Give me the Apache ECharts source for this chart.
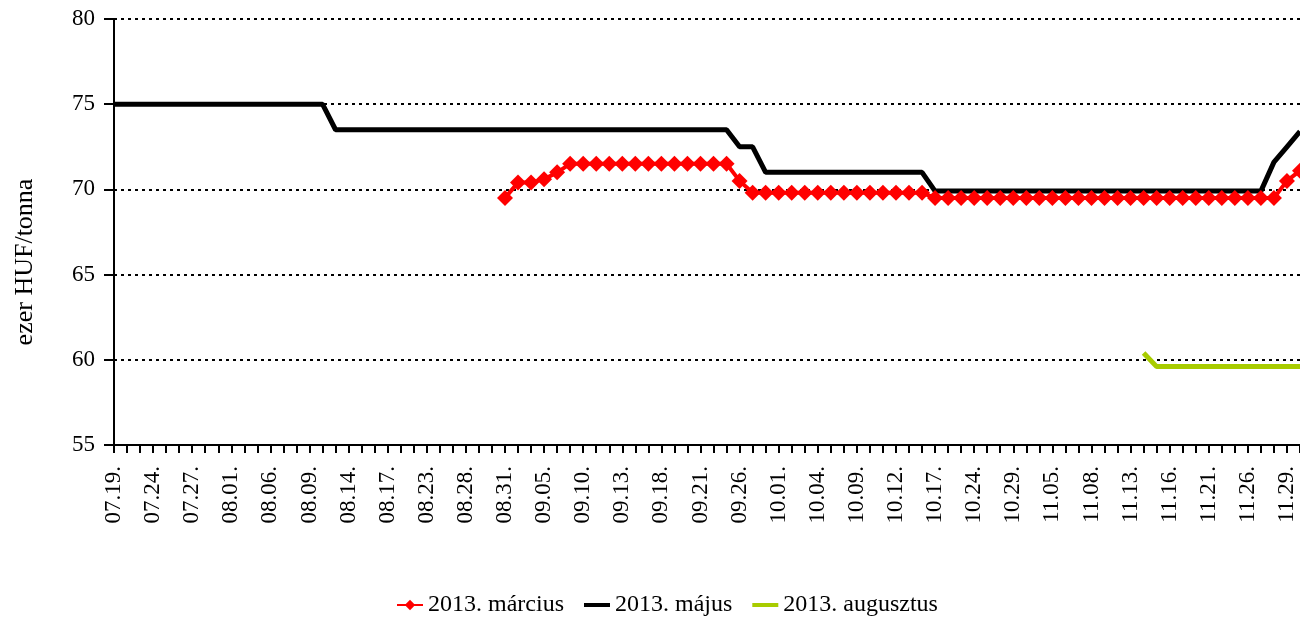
<!DOCTYPE html>
<html>
<head>
<meta charset="utf-8">
<script src="https://cdn.jsdelivr.net/npm/echarts@6/dist/echarts.min.js"></script>
<style>
  html, body { margin: 0; padding: 0; background: #fff; }
  #chart { width: 1300px; height: 618px; }
</style>
</head>
<body>
<div id="chart"></div>
<script>
// trading days, every third one is labelled on the axis
const days = [
  '07.19.', '07.22.', '07.23.', '07.24.', '07.25.', '07.26.', '07.27.', '07.30.', '07.31.',
  '08.01.', '08.02.', '08.05.', '08.06.', '08.07.', '08.08.', '08.09.', '08.12.', '08.13.',
  '08.14.', '08.15.', '08.16.', '08.17.', '08.21.', '08.22.', '08.23.', '08.26.', '08.27.',
  '08.28.', '08.29.', '08.30.', '08.31.', '09.03.', '09.04.', '09.05.', '09.06.', '09.09.',
  '09.10.', '09.11.', '09.12.', '09.13.', '09.16.', '09.17.', '09.18.', '09.19.', '09.20.',
  '09.21.', '09.24.', '09.25.', '09.26.', '09.27.', '09.30.', '10.01.', '10.02.', '10.03.',
  '10.04.', '10.07.', '10.08.', '10.09.', '10.10.', '10.11.', '10.12.', '10.15.', '10.16.',
  '10.17.', '10.18.', '10.21.', '10.24.', '10.25.', '10.28.', '10.29.', '10.30.', '11.04.',
  '11.05.', '11.06.', '11.07.', '11.08.', '11.11.', '11.12.', '11.13.', '11.14.', '11.15.',
  '11.16.', '11.19.', '11.20.', '11.21.', '11.22.', '11.25.', '11.26.', '11.27.', '11.28.',
  '11.29.', '12.02.'
];

const N = null;

// 2013. március
const marcius = [
  N, N, N, N, N, N, N, N, N, N,
  N, N, N, N, N, N, N, N, N, N,
  N, N, N, N, N, N, N, N, N, N,
  69.5, 70.4, 70.4, 70.6, 71.0, 71.5, 71.5, 71.5, 71.5, 71.5,
  71.5, 71.5, 71.5, 71.5, 71.5, 71.5, 71.5, 71.5, 70.5, 69.8,
  69.8, 69.8, 69.8, 69.8, 69.8, 69.8, 69.8, 69.8, 69.8, 69.8,
  69.8, 69.8, 69.8, 69.5, 69.5, 69.5, 69.5, 69.5, 69.5, 69.5,
  69.5, 69.5, 69.5, 69.5, 69.5, 69.5, 69.5, 69.5, 69.5, 69.5,
  69.5, 69.5, 69.5, 69.5, 69.5, 69.5, 69.5, 69.5, 69.5, 69.5,
  70.5, 71.1
];

// 2013. május
const majus = [
  75, 75, 75, 75, 75, 75, 75, 75, 75, 75,
  75, 75, 75, 75, 75, 75, 75, 73.5, 73.5, 73.5,
  73.5, 73.5, 73.5, 73.5, 73.5, 73.5, 73.5, 73.5, 73.5, 73.5,
  73.5, 73.5, 73.5, 73.5, 73.5, 73.5, 73.5, 73.5, 73.5, 73.5,
  73.5, 73.5, 73.5, 73.5, 73.5, 73.5, 73.5, 73.5, 72.5, 72.5,
  71, 71, 71, 71, 71, 71, 71, 71, 71, 71,
  71, 71, 71, 69.9, 69.9, 69.9, 69.9, 69.9, 69.9, 69.9,
  69.9, 69.9, 69.9, 69.9, 69.9, 69.9, 69.9, 69.9, 69.9, 69.9,
  69.9, 69.9, 69.9, 69.9, 69.9, 69.9, 69.9, 69.9, 69.9, 71.6,
  72.5, 73.4
];

// 2013. augusztus
const augusztus = [
  N, N, N, N, N, N, N, N, N, N,
  N, N, N, N, N, N, N, N, N, N,
  N, N, N, N, N, N, N, N, N, N,
  N, N, N, N, N, N, N, N, N, N,
  N, N, N, N, N, N, N, N, N, N,
  N, N, N, N, N, N, N, N, N, N,
  N, N, N, N, N, N, N, N, N, N,
  N, N, N, N, N, N, N, N, N, 60.4,
  59.6, 59.6, 59.6, 59.6, 59.6, 59.6, 59.6, 59.6, 59.6, 59.6,
  59.6, 59.6
];

const font = 'Liberation Serif, Times New Roman, serif';
const barIcon = 'path://M0,0h26v4h-26z';

const chart = echarts.init(document.getElementById('chart'));
chart.setOption({
  animation: false,
  backgroundColor: '#fff',
  textStyle: { fontFamily: font, color: '#000' },
  grid: { left: 114, right: 0, top: 19, bottom: 173, outerBoundsMode: 'none' },
  legend: {
    top: 588,
    left: 391,
    itemWidth: 26,
    itemHeight: 13,
    itemGap: 20,
    textStyle: { fontFamily: font, fontSize: 24, color: '#000' },
    data: [
      { name: '2013. március' },
      { name: '2013. május', icon: barIcon },
      { name: '2013. augusztus', icon: barIcon }
    ]
  },
  xAxis: {
    type: 'category',
    data: days,
    boundaryGap: false,
    axisLine: { lineStyle: { color: '#000', width: 2 } },
    axisTick: { interval: 0, length: 8, lineStyle: { color: '#000', width: 2 } },
    axisLabel: {
      interval: 2,
      rotate: 90,
      margin: 21,
      fontFamily: font,
      fontSize: 23,
      color: '#000'
    },
    splitLine: { show: false }
  },
  yAxis: {
    type: 'value',
    min: 55,
    max: 80,
    interval: 5,
    name: 'ezer HUF/tonna',
    nameLocation: 'middle',
    nameRotate: 90,
    nameGap: 76,
    nameTextStyle: { fontFamily: font, fontSize: 26, color: '#000', padding: [0, 60, 0, 0] },
    axisLine: { show: true, lineStyle: { color: '#000', width: 2 } },
    axisTick: { show: true, length: 10, lineStyle: { color: '#000', width: 2 } },
    axisLabel: { fontFamily: font, fontSize: 23, color: '#000', margin: 19 },
    splitLine: { lineStyle: { color: '#000', type: [3, 4], width: 2 } }
  },
  series: [
    {
      name: '2013. március',
      type: 'line',
      data: marcius,
      color: '#ff0000',
      symbol: 'diamond',
      symbolSize: 16,
      showAllSymbol: true,
      lineStyle: { width: 4, color: '#ff0000' },
      itemStyle: { color: '#ff0000' }
    },
    {
      name: '2013. május',
      type: 'line',
      data: majus,
      color: '#000',
      symbol: 'none',
      lineStyle: { width: 5, color: '#000' }
    },
    {
      name: '2013. augusztus',
      type: 'line',
      data: augusztus,
      color: '#a8cc00',
      symbol: 'none',
      lineStyle: { width: 5, color: '#a8cc00' }
    }
  ]
});
</script>
</body>
</html>
